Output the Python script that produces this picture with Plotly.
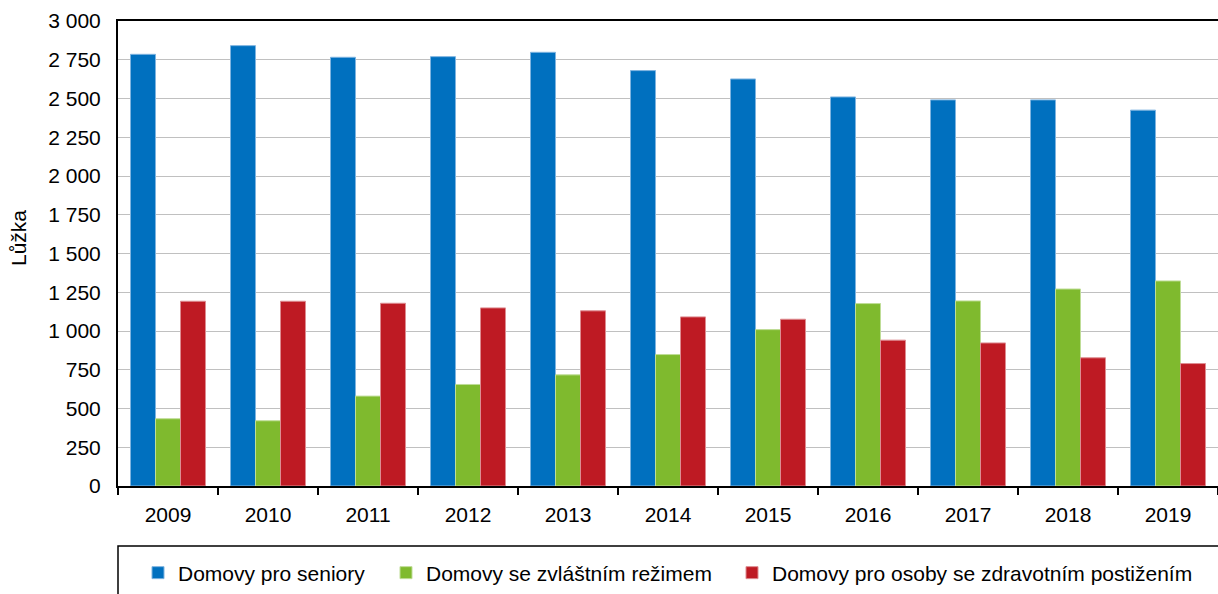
import plotly.graph_objects as go

years = ["2009", "2010", "2011", "2012", "2013", "2014", "2015", "2016", "2017", "2018", "2019"]
seniory = [2785, 2841, 2766, 2770, 2798, 2680, 2626, 2510, 2491, 2491, 2425]
zvlastni = [434, 421, 580, 655, 717, 848, 1009, 1177, 1194, 1271, 1323]
postizeni = [1192, 1192, 1179, 1149, 1130, 1091, 1076, 941, 923, 827, 790]
names = ["Domovy pro seniory", "Domovy se zvláštním režimem", "Domovy pro osoby se zdravotním postižením"]
colors = ["#0070BF", "#7FBA2E", "#BE1A23"]
edge = ["#7FB4E0", "#BFDD97", "#DE8C91"]

W, H = 1218, 594
L, R, T, B = 118, 0, 21, 108
pw = W - L - R
ph = H - T - B

def px_x(p):
    return (p - L) / pw

def px_y(p):
    return (H - B - p) / ph

fig = go.Figure()
legends = ["legend", "legend2", "legend3"]
for vals, nm, c, e, lg in zip([seniory, zvlastni, postizeni], names, colors, edge, legends):
    fig.add_trace(go.Bar(x=years, y=vals, name=nm, marker=dict(color=c, line=dict(color=e, width=1)),
                         legend=lg))

font = dict(family="Liberation Sans, Arial, sans-serif", size=21, color="#000000")
leg_common = dict(orientation="h", yanchor="middle", xanchor="left", bgcolor="rgba(0,0,0,0)",
                  borderwidth=0, font=font, itemwidth=30)
fig.update_layout(
    width=W, height=H,
    margin=dict(l=L, r=R, t=T, b=B, autoexpand=False),
    plot_bgcolor="white", paper_bgcolor="white",
    font=font,
    separators=", ",
    barmode="group", bargap=0.25, bargroupgap=0,
    legend=dict(x=px_x(138), y=px_y(573), **leg_common),
    legend2=dict(x=px_x(386), y=px_y(573), **leg_common),
    legend3=dict(x=px_x(732), y=px_y(573), **leg_common),
    xaxis=dict(range=[-0.5, 10.5], showline=True, linecolor="black", linewidth=2, mirror=True,
               ticks="outside", tickson="boundaries", ticklen=7, tickwidth=2, tickcolor="black",
               showgrid=False, tickfont=font, ticklabelstandoff=9),
    yaxis=dict(range=[0, 3000], dtick=250, tickformat=",d", showline=True, linecolor="black",
               linewidth=2, ticks="", showgrid=True, gridcolor="#C0C0C0", gridwidth=1,
               tickfont=font, ticklabelstandoff=11, zeroline=False),
    showlegend=True,
)
fig.add_annotation(text="Lůžka", textangle=-90, xref="paper", yref="paper",
                   x=px_x(18), y=px_y(238), showarrow=False, font=font, xanchor="center", yanchor="middle")
fig.add_shape(type="rect", xref="paper", yref="paper", x0=px_x(118), x1=px_x(1240),
              y0=px_y(546), y1=px_y(610), line=dict(color="black", width=1.5), fillcolor="rgba(0,0,0,0)")
fig.write_html("out.html", config={"displayModeBar": False},
               post_script="document.body.style.margin='0';document.body.style.padding='0';")
